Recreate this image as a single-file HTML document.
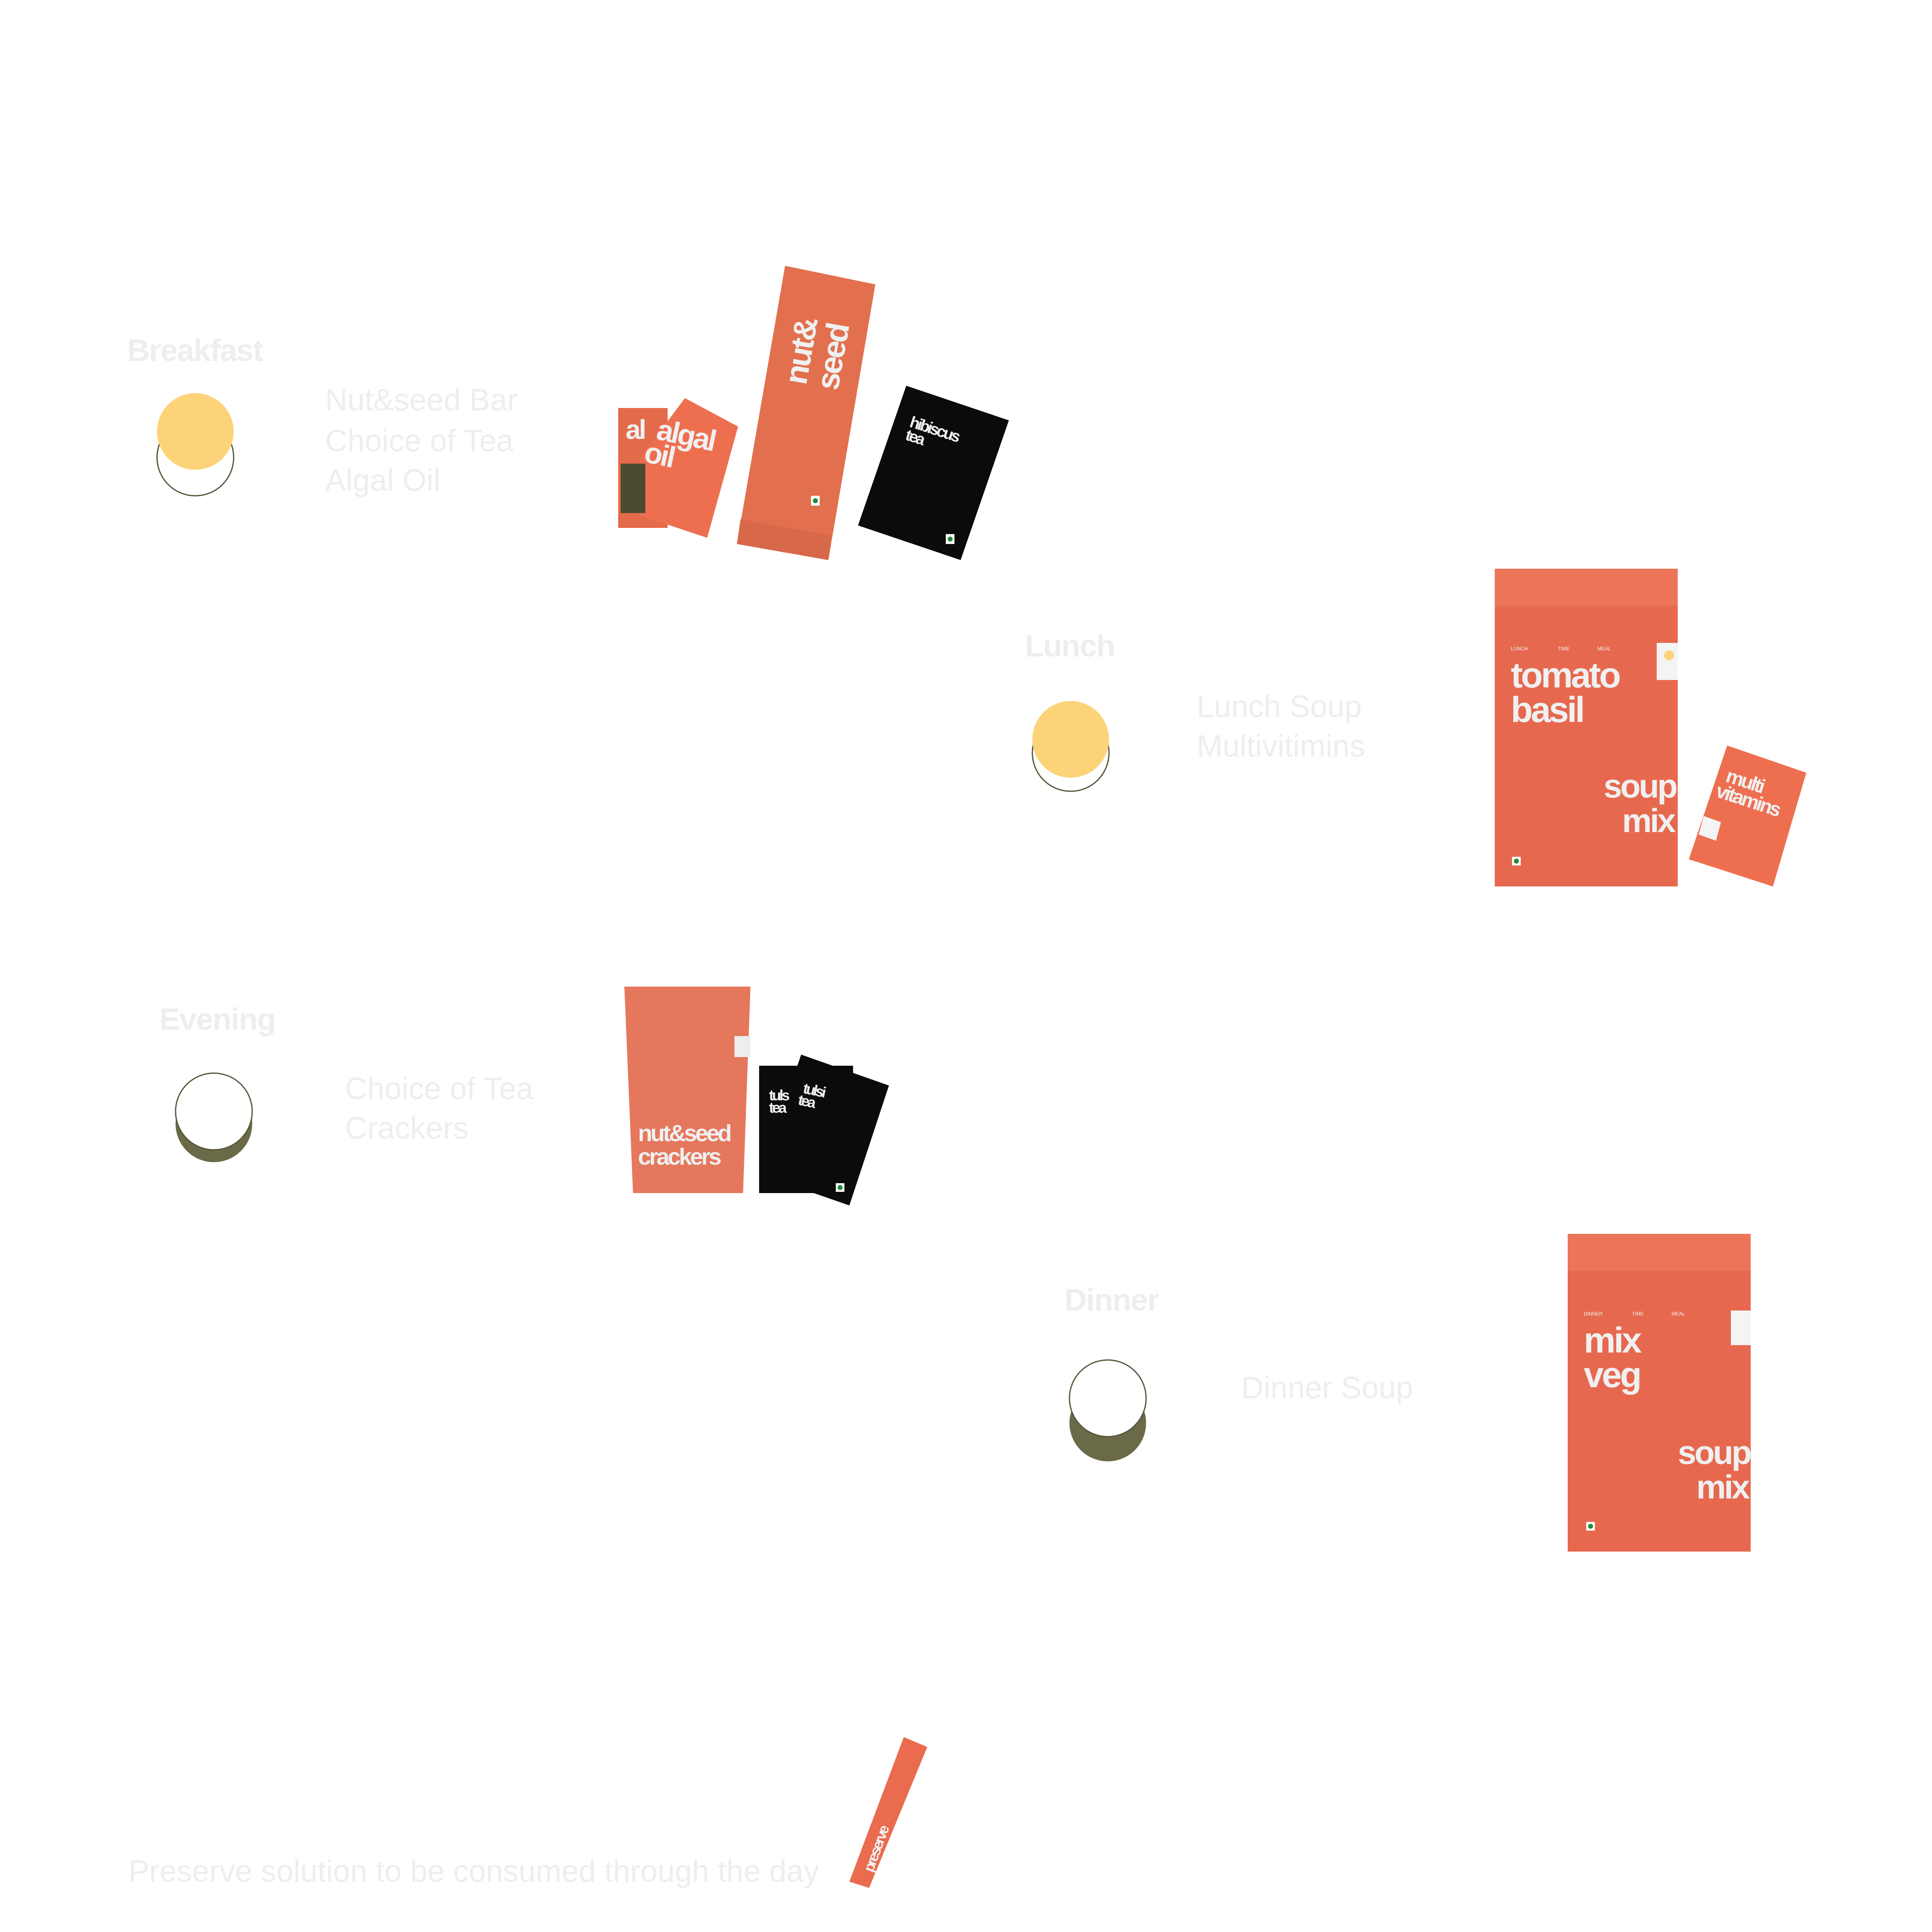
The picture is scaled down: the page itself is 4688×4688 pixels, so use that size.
<!DOCTYPE html>
<html><head><meta charset="utf-8">
<style>
html,body{margin:0;padding:0;background:#fff;}
svg{display:block;}
text{font-family:"Liberation Sans",sans-serif;}
.h{font-weight:bold;font-size:25px;fill:#eeeeee;letter-spacing:-0.5px}
.t{font-size:25px;fill:#eeeeee;letter-spacing:0px}
.pk{font-weight:bold;fill:#f0f0f0;letter-spacing:-1.5px}
.sm{font-size:4px;fill:#f3f3f3}
</style></head>
<body>
<svg width="4688" height="4688" viewBox="0 0 1562.67 1562.67" xmlns="http://www.w3.org/2000/svg">
<rect width="1563" height="1563" fill="#fff"/>

<!-- Breakfast -->
<text class="h" x="103" y="292">Breakfast</text>
<circle cx="158" cy="370" r="31" fill="#fff" stroke="#55553a" stroke-width="1"/>
<circle cx="158" cy="349" r="31" fill="#fcd378"/>
<text class="t" x="263" y="332">Nut&amp;seed Bar</text>
<text class="t" x="263" y="365">Choice of Tea</text>
<text class="t" x="263" y="397">Algal Oil</text>

<!-- algal oil packets -->
<rect x="500" y="330" width="40" height="97" fill="#e46a4c"/>
<polygon points="554,322 597,345 572,435 512,415 518,370" fill="#ee6f50"/>
<rect x="502" y="375" width="20" height="40" fill="#4a4a30"/>
<g transform="translate(530,355) rotate(12)"><text class="pk" font-size="24" x="0" y="0">algal</text><text class="pk" font-size="24" x="-6" y="20">oil</text></g>
<text class="pk" font-size="22" x="506" y="355">al</text>

<!-- nut&seed bar -->
<polygon points="635,215 708,230 670,453 596,440" fill="#e2704f"/>
<polygon points="599,420 672,433 670,453 596,440" fill="#d8684a"/>
<g transform="translate(652,312) rotate(-80)"><text class="pk" font-size="26" x="0" y="0">nut&amp;</text><text class="pk" font-size="26" x="0" y="26">seed</text></g>
<rect x="656" y="401" width="7" height="8" fill="#fff"/><circle cx="659.5" cy="405" r="2" fill="#1c8a3c"/>

<!-- hibiscus -->
<polygon points="733,312 816,340 777,453 694,425" fill="#0a0c0a"/>
<g transform="translate(735,345) rotate(18)"><text class="pk" font-size="13" x="0" y="0">hibiscus</text><text class="pk" font-size="13" x="0" y="11">tea</text></g>
<rect x="765" y="432" width="7" height="8" fill="#fff"/><circle cx="768.5" cy="436" r="2" fill="#1c8a3c"/>

<!-- Lunch -->
<text class="h" x="829" y="531">Lunch</text>
<circle cx="866" cy="609" r="31" fill="#fff" stroke="#55553a" stroke-width="1"/>
<circle cx="866" cy="598" r="31" fill="#fcd378"/>
<text class="t" x="968" y="580">Lunch Soup</text>
<text class="t" x="968" y="612">Multivitimins</text>

<!-- tomato basil pouch -->
<rect x="1209" y="460" width="148" height="257" fill="#e6694f"/>
<rect x="1209" y="460" width="148" height="30" fill="#ec7459"/>
<rect x="1340" y="520" width="17" height="30" fill="#f4f4f4"/>
<circle cx="1350" cy="530" r="4" fill="#fcd378"/>
<text class="sm" x="1222" y="526">LUNCH</text><text class="sm" x="1260" y="526">TIME</text><text class="sm" x="1292" y="526">MEAL</text>
<text class="pk" font-size="29" x="1222" y="556">tomato</text>
<text class="pk" font-size="29" x="1222" y="584">basil</text>
<text class="pk" font-size="27" x="1297" y="645">soup</text>
<text class="pk" font-size="27" x="1312" y="673">mix</text>
<rect x="1223" y="693" width="7" height="7" fill="#fff"/><circle cx="1226.5" cy="696.5" r="2" fill="#1c8a3c"/>

<!-- multivitamins -->
<polygon points="1397,603 1461,625 1434,717 1366,695" fill="#ee6f50"/>
<g transform="translate(1395,632) rotate(18)"><text class="pk" font-size="16" x="0" y="0">multi</text><text class="pk" font-size="16" x="-4" y="14">vitamins</text></g>
<polygon points="1378,660 1392,665 1388,680 1374,675" fill="#f4f4f4"/>

<!-- Evening -->
<text class="h" x="129" y="833">Evening</text>
<circle cx="173" cy="909" r="31" fill="#6b6a48"/>
<circle cx="173" cy="899" r="31" fill="#fff" stroke="#55553a" stroke-width="1"/>
<text class="t" x="279" y="889">Choice of Tea</text>
<text class="t" x="279" y="921">Crackers</text>

<!-- crackers pouch -->
<polygon points="505,798 607,798 601,965 512,965" fill="#e5775d"/>
<rect x="594" y="838" width="13" height="17" fill="#eee"/>
<text class="pk" font-size="19" x="516" y="923" letter-spacing="-2">nut&amp;seed</text>
<text class="pk" font-size="19" x="516" y="942" letter-spacing="-2">crackers</text>

<!-- tulsi -->
<rect x="614" y="862" width="76" height="103" fill="#0a0c0a"/>
<polygon points="648,853 719,878 687,975 615,950" fill="#0a0c0a"/>
<text class="pk" font-size="12" x="622" y="890">tuls</text>
<text class="pk" font-size="12" x="622" y="900">tea</text>
<g transform="translate(649,884) rotate(12)"><text class="pk" font-size="12" x="0" y="0">tulsi</text><text class="pk" font-size="12" x="-2" y="10">tea</text></g>
<rect x="676" y="957" width="7" height="7" fill="#fff"/><circle cx="679.5" cy="960.5" r="2" fill="#1c8a3c"/>

<!-- Dinner -->
<text class="h" x="861" y="1060">Dinner</text>
<circle cx="896" cy="1151" r="31" fill="#6b6a48"/>
<circle cx="896" cy="1131" r="31" fill="#fff" stroke="#55553a" stroke-width="1"/>
<text class="t" x="1004" y="1131">Dinner Soup</text>

<!-- mix veg pouch -->
<rect x="1268" y="998" width="148" height="257" fill="#e6694f"/>
<rect x="1268" y="998" width="148" height="30" fill="#ec7459"/>
<rect x="1400" y="1060" width="16" height="28" fill="#f4f4f4"/>
<text class="sm" x="1281" y="1064">DINNER</text><text class="sm" x="1320" y="1064">TIME</text><text class="sm" x="1352" y="1064">MEAL</text>
<text class="pk" font-size="29" x="1281" y="1094">mix</text>
<text class="pk" font-size="29" x="1281" y="1122">veg</text>
<text class="pk" font-size="27" x="1357" y="1184">soup</text>
<text class="pk" font-size="27" x="1372" y="1212">mix</text>
<rect x="1283" y="1231" width="7" height="7" fill="#fff"/><circle cx="1286.5" cy="1234.5" r="2" fill="#1c8a3c"/>

<!-- preserve stick -->
<polygon points="731,1405 750,1413 703,1527 687,1522" fill="#ea6b4e"/>
<g transform="translate(706,1515) rotate(-70)"><text class="pk" font-size="12" x="0" y="0">preserve</text></g>

<text class="t" x="104" y="1522">Preserve solution to be consumed through the day</text>
</svg>
</body></html>
